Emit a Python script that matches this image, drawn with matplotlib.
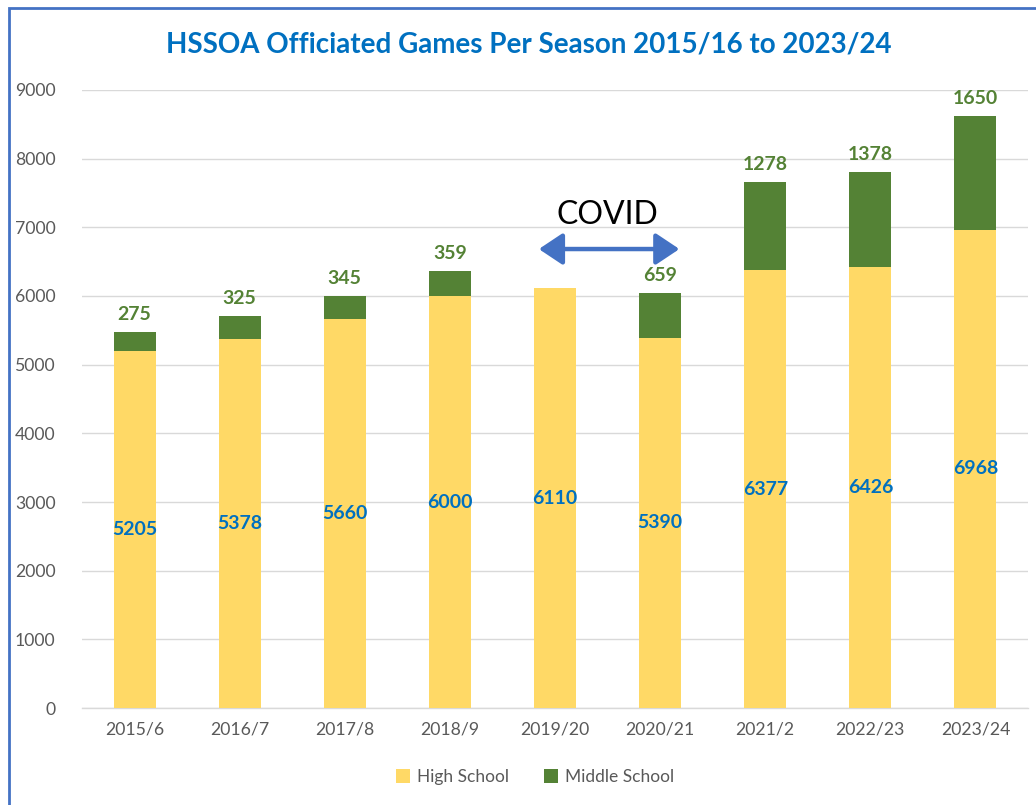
import matplotlib
matplotlib.use("Agg")
import matplotlib.pyplot as plt
from matplotlib.patches import Rectangle, FancyArrowPatch
import numpy as np

plt.rcParams['font.family'] = ['Lato', 'DejaVu Sans']

seasons = ["2015/6", "2016/7", "2017/8", "2018/9", "2019/20", "2020/21", "2021/2", "2022/23", "2023/24"]
high_school = [5205, 5378, 5660, 6000, 6110, 5390, 6377, 6426, 6968]
middle_school = [275, 325, 345, 359, 0, 659, 1278, 1378, 1650]
yticks = [0, 1000, 2000, 3000, 4000, 5000, 6000, 7000, 8000, 9000]

YELLOW = "#FFD966"
GREEN = "#548235"
BLUE = "#0070C0"
GREY = "#595959"

fig = plt.figure(figsize=(10.36, 8.05), dpi=100)
ax = fig.add_axes([82/1036, 97/805, 946/1036, 618/805])

x = np.arange(len(seasons))
w = 0.4
ax.bar(x, high_school, w, color=YELLOW, label="High School", zorder=3)
ax.bar(x, middle_school, w, bottom=high_school, color=GREEN, label="Middle School", zorder=3)

for i, (h, m) in enumerate(zip(high_school, middle_school)):
    ax.text(i, h / 2, str(h), ha="center", va="center", color=BLUE,
            fontsize=14, fontweight="bold", zorder=4)
    if m > 0:
        ax.text(i, h + m + 130, str(m), ha="center", va="bottom", color=GREEN,
                fontsize=14, fontweight="bold", zorder=4)

ax.set_xlim(-0.5, len(seasons) - 0.5)
ax.set_ylim(0, 9000)
ax.set_yticks(yticks)
ax.set_xticks(x)
ax.set_xticklabels(seasons)
ax.tick_params(axis="both", length=0, labelsize=12.7, colors=GREY)
ax.tick_params(axis="y", pad=19)
ax.tick_params(axis="x", pad=10)
ax.grid(axis="y", color="#D9D9D9", linewidth=1, zorder=0)
for s in ["top", "right", "left"]:
    ax.spines[s].set_visible(False)
ax.spines["bottom"].set_color("#D9D9D9")
ax.spines["bottom"].set_linewidth(1)

# COVID annotation
ax.text(4.5, 7180, "COVID", ha="center", va="center", fontsize=23, color="black", zorder=5)
arrow = FancyArrowPatch((3.82, 6684), (5.21, 6684), arrowstyle="<|-|>,head_length=0.9,head_width=0.6",
                        mutation_scale=16, color="#4472C4", linewidth=3.2, zorder=5)
ax.add_patch(arrow)

fig.text(529/1036, 1 - 45/805, "HSSOA Officiated Games Per Season 2015/16 to 2023/24",
         ha="center", va="center", color=BLUE, fontsize=20, fontweight="bold")

leg = fig.legend(loc="center", bbox_to_anchor=(535/1036, 1 - 777/805), ncol=2, frameon=False,
                 fontsize=12.5, handlelength=0.8, handleheight=0.8, columnspacing=2.0, handletextpad=0.4)
for t in leg.get_texts():
    t.set_color(GREY)

# Border
fig.patches.append(Rectangle((9/1036, -0.1), 1.2, 1 - 8/805 + 0.1, transform=fig.transFigure,
                             fill=False, edgecolor="#4472C4", linewidth=2))

fig.savefig("out.png", dpi=100)
